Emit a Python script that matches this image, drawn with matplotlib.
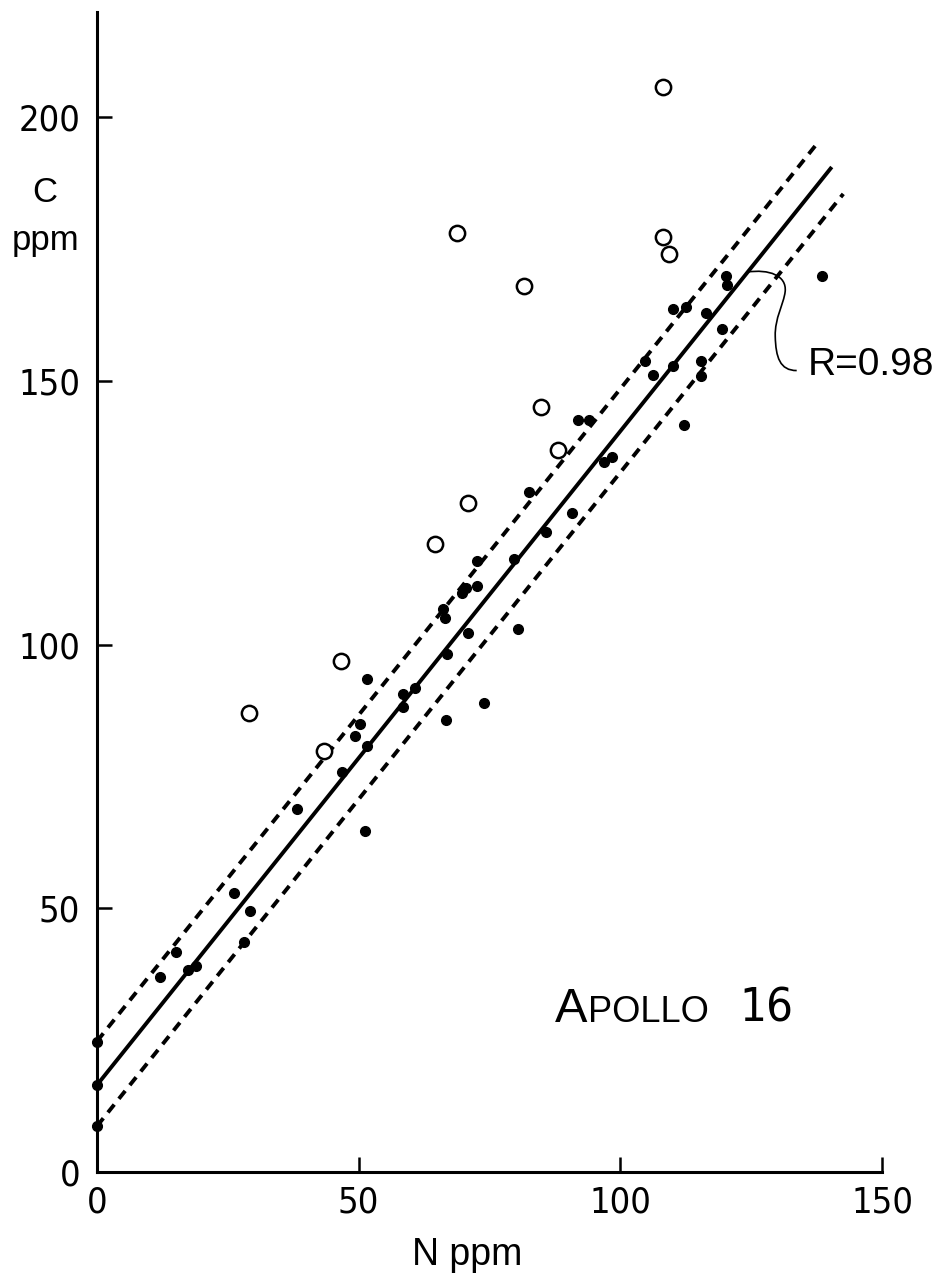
import matplotlib
matplotlib.use('Agg')
import matplotlib.pyplot as plt
from matplotlib.path import Path
from matplotlib.patches import PathPatch

# filled dots (N ppm, C ppm)
n_filled = [0, 0, 0, 12.0, 15.1, 17.4, 19.0, 26.1, 29.2, 28.1, 38.2, 46.8,
            49.3, 50.3, 51.5, 51.5, 51.2, 58.4, 60.8, 58.4, 66.2, 66.5, 66.8,
            66.6, 69.8, 70.6, 72.6, 72.6, 70.8, 73.9, 79.7, 80.5, 82.5, 85.8,
            90.7, 92.0, 94.1, 96.9, 98.5, 104.8, 106.3, 110.1, 112.5, 110.1,
            112.2, 115.4, 115.4, 116.3, 119.4, 120.2, 120.4, 138.5]
c_filled = [24.7, 16.5, 8.7, 36.9, 41.7, 38.4, 39.1, 53.0, 49.5, 43.6, 68.8,
            75.9, 82.7, 84.9, 93.5, 80.8, 64.7, 90.7, 91.8, 88.1, 106.7, 105.1,
            98.2, 85.7, 109.9, 110.8, 111.1, 115.9, 102.2, 88.9, 116.2, 102.9,
            128.9, 121.3, 125.0, 142.7, 142.7, 134.7, 135.6, 153.9, 151.1,
            163.6, 164.0, 152.8, 141.7, 153.9, 150.9, 162.9, 159.9, 170.0,
            168.2, 169.9]

# open circles
n_open = [108.1, 68.7, 108.1, 109.3, 81.5, 84.8, 88.0, 70.8, 64.5, 46.6,
          43.4, 29.0]
c_open = [205.8, 178.0, 177.3, 174.1, 168.0, 145.0, 136.9, 126.8, 119.1,
          96.9, 79.9, 87.0]

# regression line and its band, end points
fit_n = [0, 140.4]
fit_c = [16.5, 190.6]
upper_n = [0, 137.8]
upper_c = [24.8, 195.3]
lower_n = [0, 142.6]
lower_c = [8.7, 185.5]

x_ticks = [0, 50, 100, 150]
y_ticks = [0, 50, 100, 150, 200]

PLAIN = ['Liberation Sans', 'DejaVu Sans']

fig = plt.figure(figsize=(9.43, 12.75), dpi=100)
ax = fig.add_axes([97 / 943, 103 / 1275, 785 / 943, 1160 / 1275])

ax.plot(fit_n, fit_c, color='black', lw=2.8, solid_capstyle='butt')
ax.plot(upper_n, upper_c, color='black', lw=2.8, linestyle=(0, (2.6, 1.9)),
        dash_capstyle='butt')
ax.plot(lower_n, lower_c, color='black', lw=2.8, linestyle=(0, (2.6, 1.9)),
        dash_capstyle='butt')

ax.plot(n_filled, c_filled, 'o', color='black', ms=7, clip_on=False)
ax.plot(n_open, c_open, 'o', mfc='white', mec='black', mew=1.8, ms=11,
        clip_on=False)

# curly leader to the R label
verts = [(124.15, 170.67),
         (128.5, 171.3), (131.8, 170.0), (131.5, 167.0),
         (131.2, 164.5), (129.5, 162.0), (129.6, 158.5),
         (129.7, 154.5), (130.5, 152.0), (133.7, 152.0)]
codes = [Path.MOVETO] + [Path.CURVE4] * 9
ax.add_patch(PathPatch(Path(verts, codes), fill=False, lw=1.2,
                       edgecolor='black', clip_on=False))
ax.text(135.9, 153.0, 'R=0.98', fontsize=28, family=PLAIN,
        ha='left', va='center', clip_on=False)

# APOLLO 16 in small caps
ax.text(87.5, 28.5, 'A', fontsize=35, family=PLAIN, va='baseline')
ax.text(93.9, 28.5, 'POLLO', fontsize=26, family=PLAIN, va='baseline')
ax.text(122.8, 28.5, '16', fontsize=34, family='DejaVu Sans',
        fontstretch='condensed', va='baseline')

ax.set_xlim(0, 150)
ax.set_ylim(0, 220)
ax.spines['top'].set_visible(False)
ax.spines['right'].set_visible(False)
ax.spines['left'].set_linewidth(2.2)
ax.spines['bottom'].set_linewidth(2.2)

ax.set_xticks(x_ticks)
ax.set_yticks(y_ticks)
ax.set_xticklabels([str(t) for t in x_ticks], family='DejaVu Sans',
                   fontstretch='condensed', fontsize=26)
ax.set_yticklabels([str(t) for t in y_ticks], family='DejaVu Sans',
                   fontstretch='condensed', fontsize=26)
ax.tick_params(axis='both', direction='in', length=11, width=1.8)
ax.tick_params(axis='x', pad=10)
ax.tick_params(axis='y', pad=12)

fig.text(45 / 943, 1 - 192 / 1275, 'C', fontsize=25, family=PLAIN,
         ha='center', va='center')
fig.text(46 / 943, 1 - 250 / 1275, 'ppm', fontsize=25, family=PLAIN,
         ha='center', va='baseline')
fig.text(467 / 943, 1 - 1265 / 1275, 'N ppm', fontsize=27, family=PLAIN,
         ha='center', va='baseline')

fig.savefig('out.png', dpi=100)
